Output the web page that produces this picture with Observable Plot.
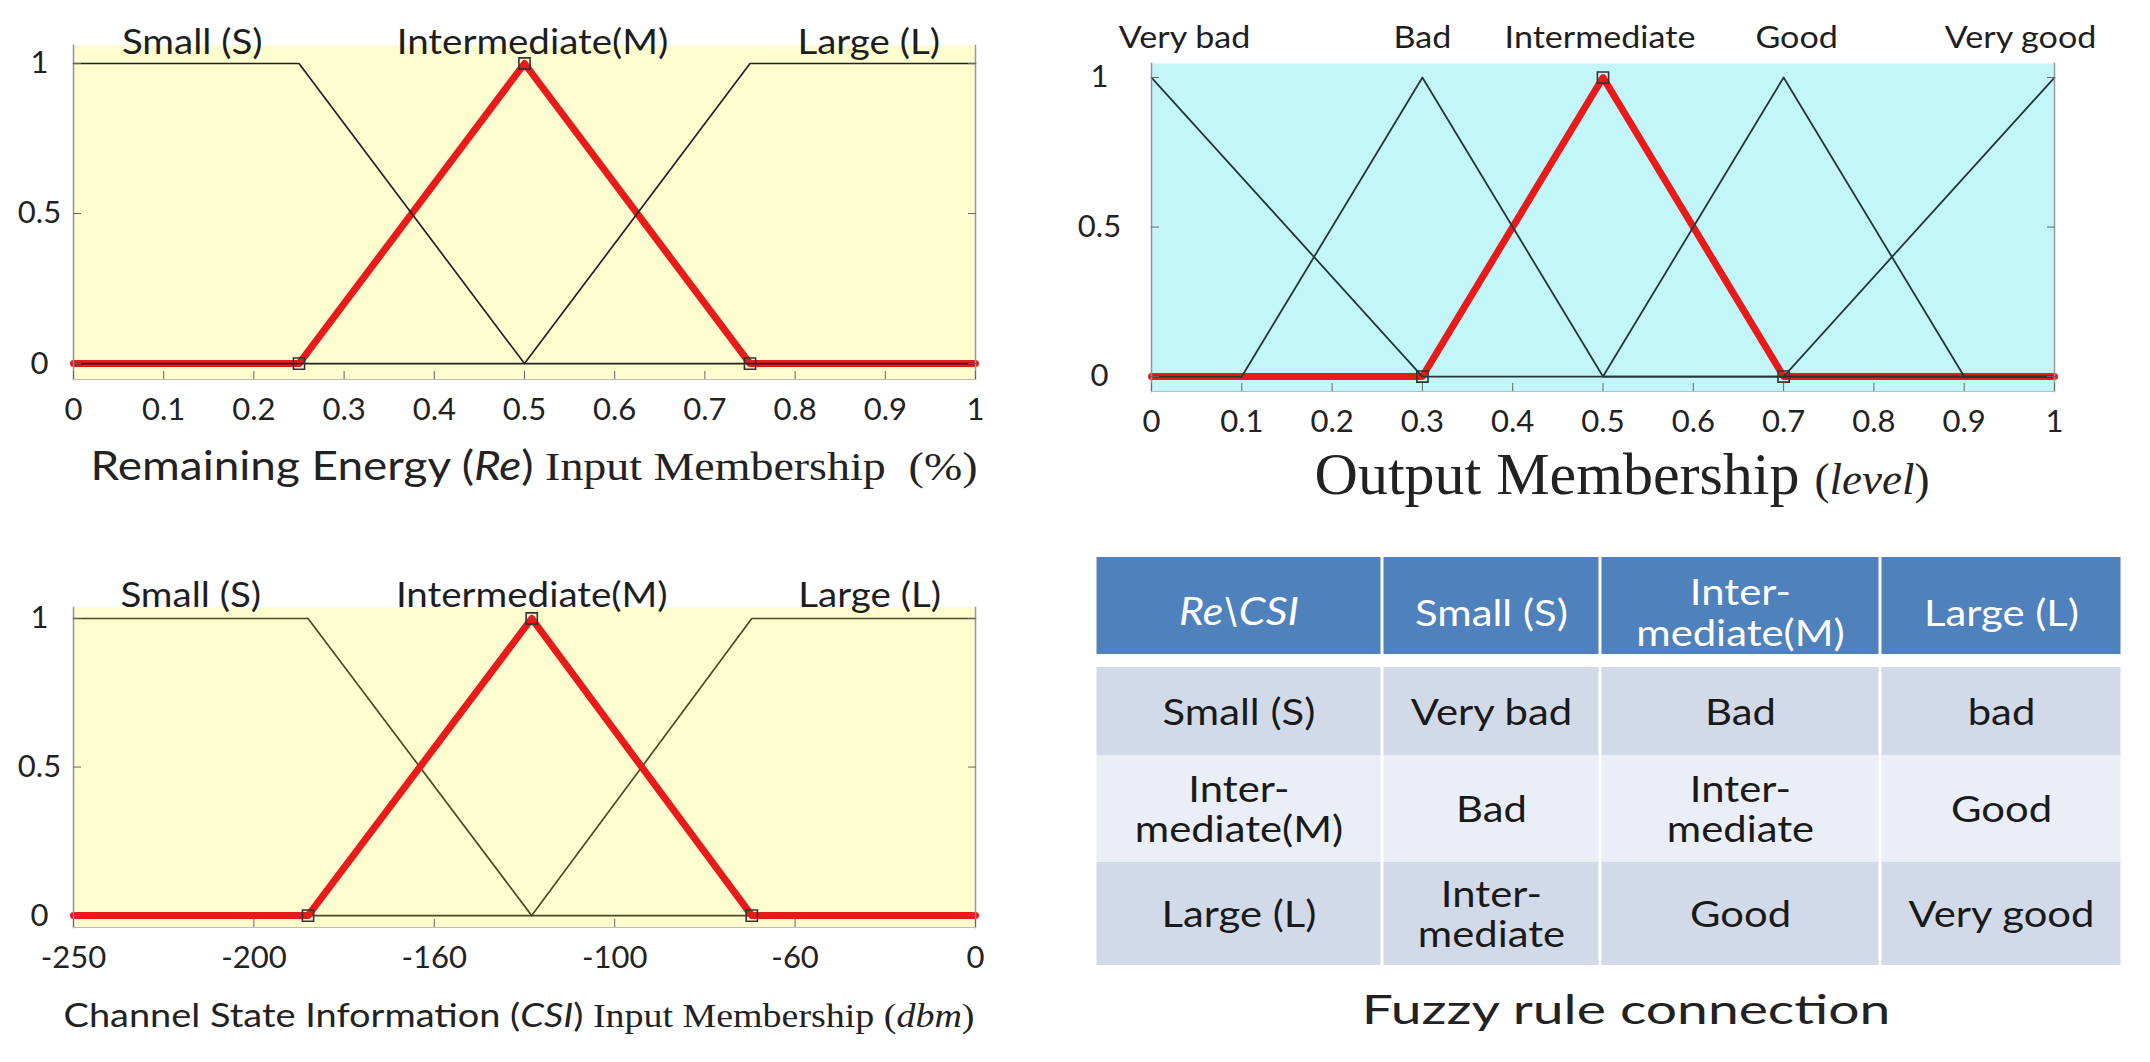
<!DOCTYPE html>
<html><head><meta charset="utf-8">
<script src="https://cdn.jsdelivr.net/npm/d3@7"></script>
<script src="https://cdn.jsdelivr.net/npm/@observablehq/plot@0.6"></script>
<style>
body{margin:0;background:#fff;width:2150px;height:1062px;position:relative;overflow:hidden;font-family:Lato,sans-serif;color:#222}
.panel{position:absolute}
.ttl{position:absolute;white-space:nowrap;line-height:1}
.sans{font-family:Lato,sans-serif}
.serif{font-family:"Liberation Serif","DejaVu Serif",serif}
i{font-style:italic}
</style></head><body>
<div id="re" class="panel" style="left:0;top:0"></div>
<div id="out" class="panel" style="left:1050px;top:0"></div>
<div id="csi" class="panel" style="left:0;top:540px"></div>
<div id="tbl" class="panel" style="left:1080px;top:540px"></div>
<div class="ttl" style="left:534px;top:465px;font-size:41px;transform:translate(-50%,-50%) scaleX(1.12)"><span class="sans">Remaining Energy (<i>Re</i>)</span><span class="serif"> Input Membership&nbsp;&nbsp;(%)</span></div>
<div class="ttl serif" style="left:1622px;top:474px;font-size:60px;transform:translate(-50%,-50%)">Output Membership <span style="font-size:45px">(<i>level</i>)</span></div>
<div class="ttl" style="left:519px;top:1015px;font-size:33px;transform:translate(-50%,-50%) scaleX(1.15)"><span class="sans">Channel State Information (<i>CSI</i>)</span><span class="serif"> Input Membership (<i>dbm</i>)</span></div>
<div class="ttl sans" style="left:1626px;top:1009px;font-size:40px;transform:translate(-50%,-50%) scaleX(1.38)">Fuzzy rule connection</div>
<script>
// ---------- Remaining energy (Re) input membership ----------
const reSets = ["Small (S)", "Intermediate(M)", "Large (L)"];
const reSmallX = [0, 0.25, 0.5, 1];
const reSmallY = [1, 1, 0, 0];
const reMidX = [0, 0.25, 0.5, 0.75, 1];
const reMidY = [0, 0, 1, 0, 0];
const reLargeX = [0, 0.5, 0.75, 1];
const reLargeY = [0, 0, 1, 1];
const reTicks = [0, 0.1, 0.2, 0.3, 0.4, 0.5, 0.6, 0.7, 0.8, 0.9, 1];
const yTicks = [0, 0.5, 1];

// ---------- Output membership ----------
const outSets = ["Very bad", "Bad", "Intermediate", "Good", "Very good"];
const outVeryBadX = [0, 0.3, 1];
const outVeryBadY = [1, 0, 0];
const outBadX = [0, 0.1, 0.3, 0.5, 1];
const outBadY = [0, 0, 1, 0, 0];
const outMidX = [0, 0.3, 0.5, 0.7, 1];
const outMidY = [0, 0, 1, 0, 0];
const outGoodX = [0.5, 0.7, 0.9, 1];
const outGoodY = [0, 1, 0, 0];
const outVeryGoodX = [0.7, 1];
const outVeryGoodY = [0, 1];
const outTicks = [0, 0.1, 0.2, 0.3, 0.4, 0.5, 0.6, 0.7, 0.8, 0.9, 1];

// ---------- Channel state information (CSI) input membership ----------
const csiSets = ["Small (S)", "Intermediate(M)", "Large (L)"];
const csiSmallX = [-250, -185, -123, 0];
const csiSmallY = [1, 1, 0, 0];
const csiMidX = [-250, -185, -123, -62, 0];
const csiMidY = [0, 0, 1, 0, 0];
const csiLargeX = [-250, -123, -62, 0];
const csiLargeY = [0, 0, 1, 1];
const csiTickValues = [-250, -200, -150, -100, -50, 0];
const csiTickLabels = ["-250", "-200", "-160", "-100", "-60", "0"];

// ---------- Fuzzy rule table ----------
const ruleCorner = "Re\\CSI";
const ruleColHeads = ["Small (S)", "Inter-\nmediate(M)", "Large (L)"];
const ruleRowHeads = ["Small (S)", "Inter-\nmediate(M)", "Large (L)"];
const ruleOut = [
  ["Very bad", "Bad", "bad"],
  ["Bad", "Inter-\nmediate", "Good"],
  ["Inter-\nmediate", "Good", "Very good"]
];

// ---------- styling / layout ----------
const RED = "#ea1a1a", INK = "#222";
const YELLOW = "#fefdcf", CYAN = "#c3f6f8";
const FONT = "Lato, sans-serif";
const pts = (xs, ys) => xs.map((x, i) => ({x, y: ys[i]}));
const peakX = (xs, ys) => d3.mean(xs.filter((x, i) => ys[i] === 1));
const fmt = d => d3.format("")(d);

function stretch(svg, label, sx) {
  svg.querySelectorAll(`g[aria-label="${label}"] text`).forEach(t => {
    const tr = t.getAttribute("transform");
    if (tr) t.setAttribute("transform", tr + ` scale(${sx},1)`);
  });
}

function memberPlot({sets, black, red, redFirst, ticks, tickFormat, domainX, domainY, labelX, labelDx, labelDy, labelSize, bg, line, lineW, dims}) {
  const blackMarks = black.map(d => Plot.line(d, {x: "x", y: "y", stroke: line, strokeWidth: lineW}));
  const redMarks = [Plot.line(red, {x: "x", y: "y", stroke: RED, strokeWidth: 7, strokeLinejoin: "round"})];
  const labelMarks = sets.map((s, i) => Plot.text([{s, x: labelX[i]}], {x: "x", y: 1, text: "s", dx: labelDx[i], dy: labelDy, fontSize: labelSize, fill: "#1e1e1e"}));
  const svg = Plot.plot({
    width: dims.width, height: dims.height,
    marginLeft: dims.marginLeft, marginRight: dims.marginRight, marginTop: dims.marginTop, marginBottom: dims.marginBottom,
    x: {domain: domainX},
    y: {domain: domainY},
    style: {fontFamily: FONT, color: INK, background: "transparent", overflow: "visible"},
    marks: [
      Plot.frame({fill: bg, stroke: null}),
      ...(redFirst ? [...redMarks, ...blackMarks] : [...blackMarks, ...redMarks]),
      Plot.dot(red.slice(1, -1), {x: "x", y: "y", symbol: "square", r: 6.3, stroke: "#333", strokeWidth: 1.6, fill: "none"}),
      Plot.frame({anchor: "left", stroke: "#8f8fb0", strokeWidth: 1.5}),
      Plot.frame({anchor: "right", stroke: "#999", strokeWidth: 1.5}),
      Plot.frame({anchor: "bottom", stroke: "#bbb", strokeWidth: 1}),
      Plot.axisX({ticks, tickSize: -8, fill: "none", stroke: "#666", label: null}),
      Plot.axisX({ticks, tickFormat, tickSize: 0, tickPadding: 31, lineAnchor: "middle", fontSize: 31, fill: "#222", label: null}),
      Plot.axisY({ticks: yTicks, anchor: "left", tickSize: -8, fill: "none", stroke: "#666", label: null}),
      Plot.axisY({ticks: yTicks, anchor: "right", tickSize: -8, fill: "none", stroke: "#666", label: null}),
      Plot.axisY({ticks: yTicks, tickFormat: fmt, anchor: "left", tickSize: 0, tickPadding: dims.yLabelPad, textAnchor: "middle", fontSize: 31, fill: "#222", label: null}),
      ...labelMarks
    ]
  });
  stretch(svg, "text", 1.1);
  return svg;
}

// Re chart
document.getElementById("re").append(memberPlot({
  sets: reSets,
  black: [pts(reSmallX, reSmallY), pts(reLargeX, reLargeY)],
  red: pts(reMidX, reMidY), redFirst: true,
  ticks: reTicks, tickFormat: fmt,
  domainX: [0, 1], domainY: [-0.053, 1.06],
  labelX: [peakX(reSmallX, reSmallY), peakX(reMidX, reMidY), peakX(reLargeX, reLargeY)],
  labelDx: [6, 8, 6], labelDy: -21, labelSize: 35,
  bg: YELLOW, line: INK, lineW: 1.7,
  dims: {width: 1000, height: 500, marginLeft: 73, marginRight: 25, marginTop: 45, marginBottom: 121, yLabelPad: 34}
}));

// Output chart
document.getElementById("out").append(memberPlot({
  sets: outSets,
  black: [pts(outVeryBadX, outVeryBadY), pts(outBadX, outBadY), pts(outGoodX, outGoodY), pts(outVeryGoodX, outVeryGoodY)],
  red: pts(outMidX, outMidY), redFirst: true,
  ticks: outTicks, tickFormat: fmt,
  domainX: [0, 1], domainY: [-0.05, 1.047],
  labelX: [peakX(outVeryBadX, outVeryBadY), peakX(outBadX, outBadY), peakX(outMidX, outMidY), peakX(outGoodX, outGoodY), peakX(outVeryGoodX, outVeryGoodY)],
  labelDx: [33, 0, -3, 13, -34], labelDy: -39, labelSize: 31,
  bg: CYAN, line: "#203838", lineW: 1.8,
  dims: {width: 1100, height: 440, marginLeft: 101, marginRight: 96, marginTop: 63, marginBottom: 49, yLabelPad: 52}
}));

// CSI chart
document.getElementById("csi").append(memberPlot({
  sets: csiSets,
  black: [pts(csiSmallX, csiSmallY), pts(csiLargeX, csiLargeY)],
  red: pts(csiMidX, csiMidY), redFirst: false,
  ticks: csiTickValues, tickFormat: (d, i) => csiTickLabels[i],
  domainX: [-250, 0], domainY: [-0.04, 1.037],
  labelX: [peakX(csiSmallX, csiSmallY), peakX(csiMidX, csiMidY), peakX(csiLargeX, csiLargeY)],
  labelDx: [0, 0, 6], labelDy: -23, labelSize: 35,
  bg: YELLOW, line: "#4a4a26", lineW: 1.7,
  dims: {width: 1000, height: 440, marginLeft: 73, marginRight: 25, marginTop: 67, marginBottom: 53, yLabelPad: 34}
}));

// Rule table (column widths / row heights are layout, in px-like units)
const colW = [287, 218, 280, 242];
const rowH = [110, 88, 107, 103];
const HEAD_GAP = 13;
const colEdge = d3.cumsum([0, ...colW]);
const rowEdge = d3.cumsum([0, ...rowH]);
const cell = (r, c, t) => ({r, c, t, x1: colEdge[c], x2: colEdge[c + 1], y1: rowEdge[r], y2: rowEdge[r + 1],
  fill: r % 2 ? "#d2daea" : "#eaeef6"});
const headCells = [ruleCorner, ...ruleColHeads].map((t, c) => cell(0, c, t));
const bodyCells = [];
ruleRowHeads.forEach((h, r) => {
  bodyCells.push(cell(r + 1, 0, h));
  ruleOut[r].forEach((t, c) => bodyCells.push(cell(r + 1, c + 1, t)));
});
const cx = d => (d.x1 + d.x2) / 2, cy = d => (d.y1 + d.y2) / 2;
const tblSvg = Plot.plot({
  width: 1070, height: 440,
  marginLeft: 15, marginRight: 28, marginTop: 17, marginBottom: 15,
  x: {domain: [0, colEdge[colEdge.length - 1]], axis: null},
  y: {domain: [0, rowEdge[rowEdge.length - 1]], reverse: true, axis: null},
  style: {fontFamily: FONT, background: "transparent", overflow: "visible"},
  marks: [
    Plot.rect(headCells, {x1: "x1", x2: "x2", y1: "y1", y2: "y2", fill: "#4f81bd", insetLeft: 1.5, insetRight: 1.5, insetBottom: HEAD_GAP}),
    Plot.rect(bodyCells, {x1: "x1", x2: "x2", y1: "y1", y2: "y2", fill: "fill", insetLeft: 1.5, insetRight: 1.5}),
    Plot.text(headCells.slice(0, 1), {x: cx, y: cy, text: "t", fill: "white", fontSize: 38, fontStyle: "italic"}),
    Plot.text(headCells.slice(1), {x: cx, y: cy, text: "t", fill: "white", fontSize: 37, lineHeight: 1.1}),
    Plot.text(bodyCells, {x: cx, y: cy, text: "t", fill: "#1a1a1a", fontSize: 37, lineHeight: 1.1})
  ]
});
stretch(tblSvg, "text", 1.13);
document.getElementById("tbl").append(tblSvg);
</script>
</body></html>
